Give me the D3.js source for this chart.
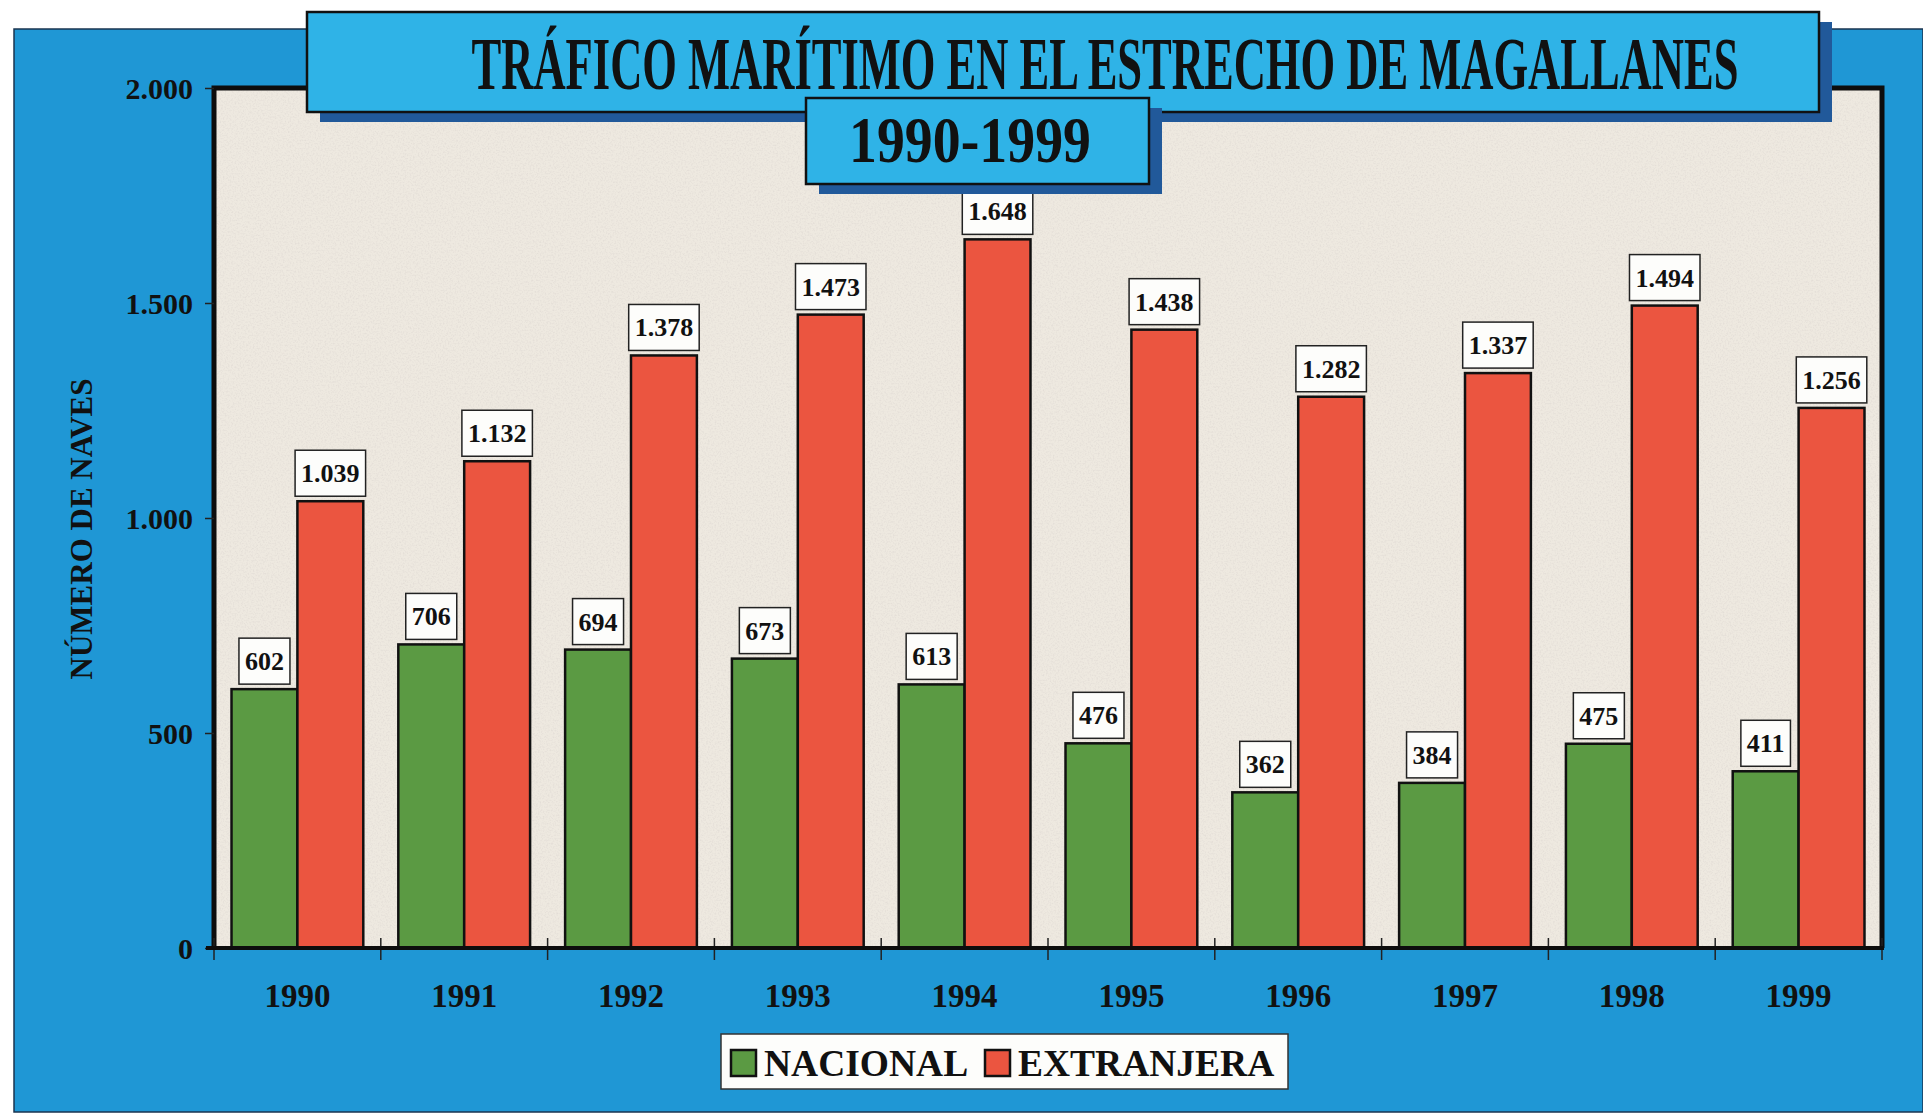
<!DOCTYPE html>
<html>
<head>
<meta charset="utf-8">
<script src="https://cdn.jsdelivr.net/npm/d3@7"></script>
<style>
  body { margin: 0; background: #ffffff; }
  svg { display: block; }
  text { font-family: "Liberation Serif", "Times New Roman", serif; font-weight: bold; fill: #111; }
</style>
</head>
<body>
<div id="chart"></div>
<script>
// data
const years = ["1990", "1991", "1992", "1993", "1994", "1995", "1996", "1997", "1998", "1999"];
const series = ["NACIONAL", "EXTRANJERA"];
const nacional = [602, 706, 694, 673, 613, 476, 362, 384, 475, 411];
const extranjera = [1039, 1132, 1378, 1473, 1648, 1438, 1282, 1337, 1494, 1256];
const yTicks = [0, 500, 1000, 1500, 2000];

const title = "TRÁFICO MARÍTIMO EN EL ESTRECHO DE MAGALLANES";
const subtitle = "1990-1999";
const yTitle = "NÚMERO DE NAVES";

const width = 1923, height = 1117;
const colors = { NACIONAL: "#5b9a43", EXTRANJERA: "#eb5540" };

const svg = d3.select("#chart").append("svg")
  .attr("width", width)
  .attr("height", height);

// noise for the paper texture of the plot area
const defs = svg.append("defs");
const f = defs.append("filter").attr("id", "paper").attr("x", 0).attr("y", 0).attr("width", 1).attr("height", 1);
f.append("feTurbulence").attr("type", "fractalNoise").attr("baseFrequency", 0.6).attr("numOctaves", 2).attr("seed", 3).attr("result", "n");
f.append("feColorMatrix").attr("in", "n").attr("type", "matrix")
  .attr("values", "0 0 0 0 0.55  0 0 0 0 0.5  0 0 0 0 0.5  0 0 0 -1.6 0.9")
  .attr("result", "m");
f.append("feComposite").attr("in", "m").attr("in2", "SourceGraphic").attr("operator", "in");

// blue panel
svg.append("rect")
  .attr("x", 14).attr("y", 29)
  .attr("width", width - 14).attr("height", 1083)
  .attr("fill", "#1f97d5")
  .attr("stroke", "#1a3550").attr("stroke-width", 1.5);

const plot = { left: 214, right: 1882, top: 88, bottom: 948 };

const y = d3.scaleLinear().domain([0, 2000]).range([plot.bottom, plot.top]);

const x0 = d3.scaleBand()
  .domain(years)
  .range([plot.left, plot.right])
  .paddingInner(0.21)
  .paddingOuter(0.105);

const x1 = d3.scaleBand()
  .domain(series)
  .range([0, x0.bandwidth()]);

// plot background
svg.append("rect")
  .attr("x", plot.left).attr("y", plot.top)
  .attr("width", plot.right - plot.left).attr("height", plot.bottom - plot.top)
  .attr("fill", "#eee9e0");
svg.append("rect")
  .attr("x", plot.left).attr("y", plot.top)
  .attr("width", plot.right - plot.left).attr("height", plot.bottom - plot.top)
  .attr("fill", "#eee9e0")
  .attr("filter", "url(#paper)")
  .attr("opacity", 0.35);

const rows = years.map(function(yr, i) {
  return { year: yr, values: [
    { key: "NACIONAL", value: nacional[i] },
    { key: "EXTRANJERA", value: extranjera[i] }
  ] };
});

const groups = svg.selectAll("g.year")
  .data(rows)
  .enter()
  .append("g")
  .attr("class", "year")
  .attr("transform", function(d) { return "translate(" + x0(d.year) + ",0)"; });

groups.selectAll("rect.bar")
  .data(function(d) { return d.values; })
  .enter()
  .append("rect")
  .attr("class", "bar")
  .attr("x", function(d) { return x1(d.key); })
  .attr("y", function(d) { return y(d.value); })
  .attr("width", x1.bandwidth())
  .attr("height", function(d) { return y(0) - y(d.value); })
  .attr("fill", function(d) { return colors[d.key]; })
  .attr("stroke", "#111")
  .attr("stroke-width", 2.5);

const fmt = function(v) { return d3.format(",")(v).replace(",", "."); };

// value labels in white boxes
groups.selectAll("g.lab")
  .data(function(d) { return d.values; })
  .enter()
  .append("g")
  .attr("class", "lab")
  .each(function(d) {
    const g = d3.select(this);
    const cx = x1(d.key) + x1.bandwidth() / 2;
    const bottom = y(d.value) - 5;
    const box = g.append("rect");
    const t = g.append("text")
      .attr("x", cx)
      .attr("y", bottom - 14)
      .attr("text-anchor", "middle")
      .attr("font-size", 26)
      .text(fmt(d.value));
    const w = t.node().getComputedTextLength() + 12;
    box.attr("x", cx - w / 2).attr("y", bottom - 46)
      .attr("width", w).attr("height", 46)
      .attr("fill", "#fdfdfb")
      .attr("stroke", "#222").attr("stroke-width", 1.5);
  });

// plot frame
svg.append("path")
  .attr("d", "M" + plot.left + "," + plot.bottom + "V" + plot.top + "H" + plot.right + "V" + plot.bottom)
  .attr("fill", "none")
  .attr("stroke", "#0d0d0d")
  .attr("stroke-width", 5);

// y axis
const yAxis = svg.append("g")
  .attr("transform", "translate(" + plot.left + ",0)")
  .call(d3.axisLeft(y).tickValues(yTicks).tickFormat(fmt).tickSize(9).tickPadding(12));
yAxis.select(".domain").remove();
yAxis.selectAll("line").attr("stroke", "#222").attr("stroke-width", 1.5);
yAxis.selectAll("text")
  .attr("font-size", 30)
  .attr("font-family", "Liberation Serif")
  .attr("font-weight", "bold")
  .attr("fill", "#111")
  .attr("dy", "0.36em");

// x axis labels at band centres
const xAxis = svg.append("g")
  .attr("transform", "translate(0," + plot.bottom + ")")
  .call(d3.axisBottom(x0).tickSize(0).tickPadding(36));
xAxis.select(".domain").remove();
xAxis.selectAll("text")
  .attr("font-size", 33)
  .attr("font-family", "Liberation Serif")
  .attr("font-weight", "bold")
  .attr("fill", "#111");

// x ticks at band boundaries
const bounds = d3.range(years.length + 1).map(function(i) { return plot.left + i * x0.step(); });
svg.selectAll("line.xt")
  .data(bounds)
  .enter()
  .append("line")
  .attr("class", "xt")
  .attr("x1", function(d) { return d; }).attr("x2", function(d) { return d; })
  .attr("y1", plot.bottom - 10).attr("y2", plot.bottom + 12)
  .attr("stroke", "#222").attr("stroke-width", 1.5);

// baseline
svg.append("line")
  .attr("x1", plot.left - 8).attr("x2", plot.right + 2)
  .attr("y1", plot.bottom).attr("y2", plot.bottom)
  .attr("stroke", "#0d0d0d").attr("stroke-width", 4);

// y title
svg.append("text")
  .attr("transform", "translate(92,529) rotate(-90)")
  .attr("text-anchor", "middle")
  .attr("font-size", 31)
  .text(yTitle);

// title boxes with shadows
function titleBox(x, yy, w, h) {
  svg.append("rect")
    .attr("x", x + 13).attr("y", yy + 10)
    .attr("width", w).attr("height", h)
    .attr("fill", "#21599a");
  svg.append("rect")
    .attr("x", x).attr("y", yy)
    .attr("width", w).attr("height", h)
    .attr("fill", "#2fb3e7")
    .attr("stroke", "#111").attr("stroke-width", 2.5);
}
// condensed type: squeeze the text horizontally to the width seen on the scan
function titleText(label, fs, cx, tw, base) {
  const g = svg.append("g");
  const t = g.append("text")
    .attr("x", 0).attr("y", 0)
    .attr("text-anchor", "middle")
    .attr("font-size", fs)
    .text(label);
  const sx = tw / t.node().getComputedTextLength();
  g.attr("transform", "translate(" + cx + "," + base + ") scale(" + sx + ",1)");
}
titleBox(307, 12, 1512, 100);
titleBox(806, 98, 343, 86);
titleText(subtitle, 66, 970, 242, 162);
titleText(title, 74, 1105, 1267, 89);

// legend
const legend = svg.append("g");
legend.append("rect")
  .attr("x", 721).attr("y", 1034)
  .attr("width", 567).attr("height", 55)
  .attr("fill", "#fdfdfb")
  .attr("stroke", "#333").attr("stroke-width", 1.5);
const legX = [731, 985];
series.forEach(function(s, i) {
  legend.append("rect")
    .attr("x", legX[i]).attr("y", 1050)
    .attr("width", 25).attr("height", 26)
    .attr("fill", colors[s])
    .attr("stroke", "#111").attr("stroke-width", 2.5);
  legend.append("text")
    .attr("x", legX[i] + 33).attr("y", 1076)
    .attr("font-size", 37.5)
    .text(s);
});
</script>
</body>
</html>
